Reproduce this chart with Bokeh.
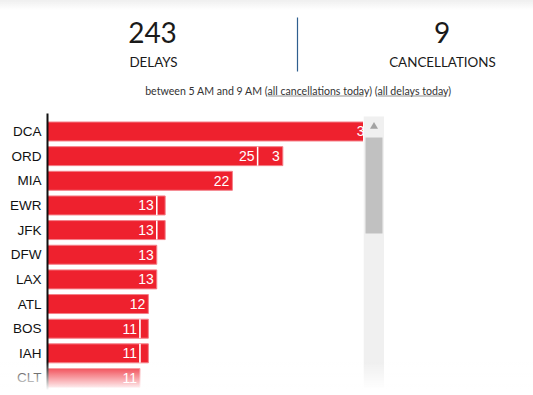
from bokeh.plotting import figure
from bokeh.layouts import column, row
from bokeh.models import Range1d, FixedTicker, ColumnDataSource
from bokeh.embed import file_html
from bokeh.resources import INLINE
from bokeh.core.properties import value

# ---------------- data ----------------
airports = ["DCA", "ORD", "MIA", "EWR", "JFK", "DFW", "LAX", "ATL", "BOS", "IAH", "CLT"]
delays = [39, 25, 22, 13, 13, 13, 13, 12, 11, 11, 11]
cancellations = [0, 3, 0, 1, 1, 0, 0, 0, 1, 1, 0]
total_delays = 243
total_cancellations = 9
delays_title = "DELAYS"
cancellations_title = "CANCELLATIONS"
subtitle = "between 5 AM and 9 AM (all cancellations today) (all delays today)"

RED = "#ee212e"
EDGE = "#f47f88"
TXT = "#1a1a1a"

# ---------------- header ----------------
hdr = figure(width=525, height=113, x_range=Range1d(0, 525), y_range=Range1d(113, 0),
             output_backend="svg", toolbar_location=None, min_border=0,
             x_axis_location=None, y_axis_location=None)
hdr.grid.visible = False
hdr.outline_line_color = None

hdr.text(x=[152, 441.5], y=[31.5, 31.5], text=[str(total_delays), str(total_cancellations)],
         text_font=value("Lato"), text_font_size="28px", text_align="center",
         text_baseline="middle", text_color=TXT)
hdr.text(x=[153, 442], y=[61, 61], text=[delays_title, cancellations_title],
         text_font=value("Lato"), text_font_size="13.4px", text_align="center",
         text_baseline="middle", text_color=TXT)
hdr.segment(x0=[297], x1=[297], y0=[17], y1=[71], line_color="#2f5f8f", line_width=1.2)
hdr.text(x=[298], y=[90], text=[subtitle], text_font=value("Lato"), text_font_size="10.6px",
         text_align="center", text_baseline="middle", text_color="#333333")
hdr.segment(x0=[267.7, 377.7], x1=[363, 446], y0=[95.5, 95.5], y1=[95.5, 95.5],
            line_color="#777777", line_width=0.8)

# ---------------- chart ----------------
n = len(airports)
ys = list(range(n))
src = ColumnDataSource(dict(y=ys, d=delays, dl=[str(v) for v in delays]))
cy = [y for y, c in zip(ys, cancellations) if c > 0]
cd = [d for d, c in zip(delays, cancellations) if c > 0]
cc = [c for c in cancellations if c > 0]
csrc = ColumnDataSource(dict(y=cy, left=cd, right=[a + b for a, b in zip(cd, cc)],
                             cl=[str(c) if c >= 2 else "" for c in cc]))

BAR_H = 0.77
ch = figure(width=363, height=282, x_range=Range1d(0, 37.6), y_range=Range1d(10.71, -0.73),
            output_backend="svg", toolbar_location=None, x_axis_location=None,
            min_border_left=47, min_border_right=0, min_border_top=0, min_border_bottom=0)
ch.grid.visible = False
ch.outline_line_color = None

ch.hbar(y="y", left=0, right="d", height=BAR_H, fill_color=RED, line_color=EDGE,
        line_width=1, source=src)
ch.hbar(y="y", left="left", right="right", height=BAR_H, fill_color=RED, line_color=EDGE,
        line_width=1, source=csrc)
ch.segment(x0=cd, x1=cd, y0=[y - BAR_H / 2 for y in cy], y1=[y + BAR_H / 2 for y in cy],
           line_color="white", line_width=1.5)

ch.text(x="d", y="y", text="dl", x_offset=-3, text_align="right", text_baseline="middle",
        text_color="white", text_font=value("Liberation Sans"), text_font_size="14px",
        source=src)
ch.text(x="right", y="y", text="cl", x_offset=-3, text_align="right", text_baseline="middle",
        text_color="white", text_font=value("Liberation Sans"), text_font_size="14px",
        source=csrc)

ax = ch.yaxis[0]
ax.ticker = FixedTicker(ticks=ys)
ax.major_label_overrides = {i: a for i, a in zip(ys, airports)}
ax.major_tick_line_color = None
ax.major_tick_out = 0
ax.major_tick_in = 0
ax.minor_tick_line_color = None
ax.minor_tick_out = 0
ax.axis_line_color = "#111111"
ax.axis_line_width = 2
ax.major_label_text_font = "Liberation Sans"
ax.major_label_text_font_size = "13.5px"
ax.major_label_text_color = "#111111"
ax.major_label_standoff = 6

# ---------------- scrollbar ----------------
sb = figure(width=21, height=282, x_range=Range1d(0, 21), y_range=Range1d(282, 0),
            output_backend="svg", toolbar_location=None, min_border=0,
            x_axis_location=None, y_axis_location=None)
sb.grid.visible = False
sb.outline_line_color = None
sb.quad(left=[0], right=[21], top=[3], bottom=[282], fill_color="#f0f0f0", line_color=None)
sb.quad(left=[2], right=[19], top=[24], bottom=[120], fill_color="#c1c1c1", line_color=None)
sb.scatter(x=[10.5], y=[13], marker="triangle", size=8, fill_color="#a3a3a3", line_color=None)

layout = column(hdr, row(ch, sb, spacing=0), spacing=0)

html = file_html(layout, INLINE)
overlay = (
    '<div style="position:fixed;left:0;top:0;width:100%;height:10px;'
    'background:linear-gradient(#efefef,rgba(255,255,255,0));pointer-events:none;z-index:10"></div>'
    '<div style="position:fixed;left:0;top:362px;width:100%;height:33px;'
    'background:linear-gradient(rgba(255,255,255,0),#ffffff 85%);pointer-events:none;z-index:10"></div>'
)
html = html.replace("</body>", overlay + "</body>")
open("out.html", "w").write(html)
